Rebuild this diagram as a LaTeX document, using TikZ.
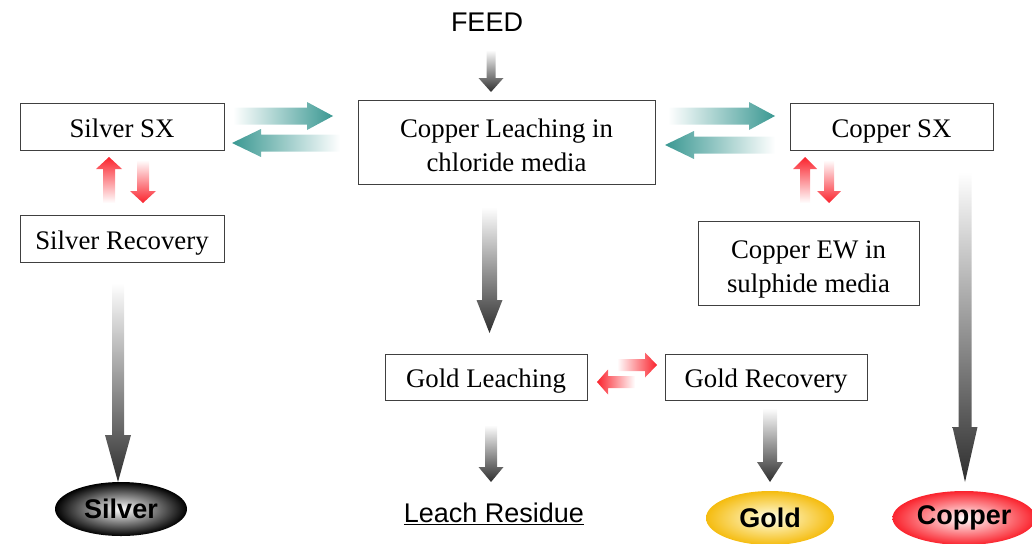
\documentclass[tikz,border=0pt]{standalone}
\usepackage{fontspec}
\setmainfont{Liberation Serif}
\setsansfont{Liberation Sans}
\usetikzlibrary{calc,shapes.geometric}

\definecolor{tealarr}{RGB}{58,152,146}
\definecolor{redarr}{RGB}{250,35,45}
\definecolor{goldfill}{RGB}{245,188,15}

% fat arrow: style, from, to, half shaft, half head, head length
\newcommand{\fatarrow}[6]{%
  \coordinate (hb) at ($(#3)!#6!(#2)$);
  \path[#1] ($(#2)!#4!90:(#3)$) -- ($(hb)!#4!90:(#3)$) -- ($(hb)!#5!90:(#3)$) -- (#3)
    -- ($(hb)!#5!-90:(#3)$) -- ($(hb)!#4!-90:(#3)$) -- ($(#2)!#4!-90:(#3)$) -- cycle;
}

\begin{document}
\begin{tikzpicture}[x=1pt,y=-1pt,font=\fontsize{26.8}{34.5}\selectfont]
\tikzstyle{box}=[rectangle, draw=black!75, line width=1pt, align=center, inner sep=0pt, text height=21pt, text depth=0pt]
\tikzstyle{box2}=[box, text height=59.5pt, text depth=0pt]
\tikzstyle{product}=[ellipse, minimum width=132pt, minimum height=54pt, font=\sffamily\bfseries\fontsize{27}{30}\selectfont]
\tikzstyle{down}=[top color=white, bottom color=black!82]
\tikzstyle{tealright}=[left color=white, right color=tealarr]
\tikzstyle{tealleft}=[left color=tealarr, right color=white]
\tikzstyle{redup}=[top color=redarr, bottom color=white]
\tikzstyle{reddown}=[top color=white, bottom color=redarr]
\tikzstyle{redright}=[left color=white, right color=redarr]
\tikzstyle{redleft}=[left color=redarr, right color=white]
\useasboundingbox (0,0) rectangle (1032,543);

  \node[font=\sffamily\fontsize{27}{30}\selectfont] (feed) at (487,22) {FEED};
  \node[box2, minimum width=297pt, minimum height=84pt] (leach) at (506.5,142) {Copper Leaching in\\chloride media};
  \node[box, minimum width=204pt, minimum height=47pt] (agsx) at (122,126.5) {Silver SX};
  \node[box, minimum width=203pt, minimum height=47pt] (cusx) at (891.5,126.5) {Copper SX};
  \node[box, minimum width=204pt, minimum height=47pt] (agrec) at (122,238.5) {Silver Recovery};
  \node[box2, minimum width=221pt, minimum height=84pt] (cuew) at (808.5,263) {Copper EW in\\sulphide media};
  \node[box, minimum width=202pt, minimum height=46pt] (auleach) at (486,377) {Gold Leaching};
  \node[box, minimum width=202pt, minimum height=46pt] (aurec) at (766,377) {Gold Recovery};
  \node[product, inner color=white, outer color=black] (ag) at (121,509) {Silver};
  \node[product, minimum width=128pt, inner color=yellow!10, outer color=goldfill] (au) at (770,518) {Gold};
  \node[product, minimum width=128pt, inner color=white, outer color=redarr] (cu) at (964,518) {Copper};
  \node[font=\sffamily\fontsize{27}{30}\selectfont] (residue) at (494,514) {\underline{Leach Residue}};

  % gray flow arrows
  \coordinate (a1) at (491,50);   \coordinate (a2) at (491,92);
  \coordinate (b1) at (489.5,207); \coordinate (b2) at (489.5,333);
  \coordinate (c1) at (118,283);  \coordinate (c2) at (118,482);
  \coordinate (d1) at (965,172);  \coordinate (d2) at (965,482);
  \coordinate (e1) at (491,425);  \coordinate (e2) at (491,482);
  \coordinate (g1) at (770,408);  \coordinate (g2) at (770,482);
  \fatarrow{down}{a1}{a2}{4.5pt}{12.5pt}{14pt}
  \fatarrow{down}{b1}{b2}{7.5pt}{13pt}{33pt}
  \fatarrow{down}{c1}{c2}{6pt}{13pt}{47pt}
  \fatarrow{down}{d1}{d2}{6.5pt}{12.5pt}{55pt}
  \fatarrow{down}{e1}{e2}{6pt}{12.5pt}{15pt}
  \fatarrow{down}{g1}{g2}{7pt}{13pt}{20pt}

  % teal exchange arrows
  \coordinate (t1) at (233,116); \coordinate (t2) at (333,116);
  \coordinate (t3) at (340,143); \coordinate (t4) at (232,143);
  \coordinate (t5) at (668,116); \coordinate (t6) at (775,116);
  \coordinate (t7) at (775,145); \coordinate (t8) at (665,145);
  \fatarrow{tealright}{t1}{t2}{8.5pt}{14pt}{26pt}
  \fatarrow{tealleft}{t3}{t4}{8.5pt}{14pt}{29pt}
  \fatarrow{tealright}{t5}{t6}{8.5pt}{14pt}{26pt}
  \fatarrow{tealleft}{t7}{t8}{8.5pt}{14pt}{29pt}

  % red recovery arrows
  \coordinate (r1) at (109,203); \coordinate (r2) at (109,157);
  \coordinate (r3) at (143,160); \coordinate (r4) at (143,203);
  \coordinate (r5) at (805,203); \coordinate (r6) at (805,157);
  \coordinate (r7) at (829,160); \coordinate (r8) at (829,203);
  \coordinate (r9) at (617,365); \coordinate (r10) at (657,365);
  \coordinate (r11) at (635,382); \coordinate (r12) at (597,382);
  \fatarrow{redup}{r1}{r2}{6pt}{13pt}{12pt}
  \fatarrow{reddown}{r3}{r4}{6pt}{13pt}{12pt}
  \fatarrow{redup}{r5}{r6}{5pt}{12pt}{12pt}
  \fatarrow{reddown}{r7}{r8}{5pt}{12pt}{12pt}
  \fatarrow{redright}{r9}{r10}{6pt}{12.5pt}{12pt}
  \fatarrow{redleft}{r11}{r12}{6pt}{12.5pt}{11pt}
\end{tikzpicture}
\end{document}
